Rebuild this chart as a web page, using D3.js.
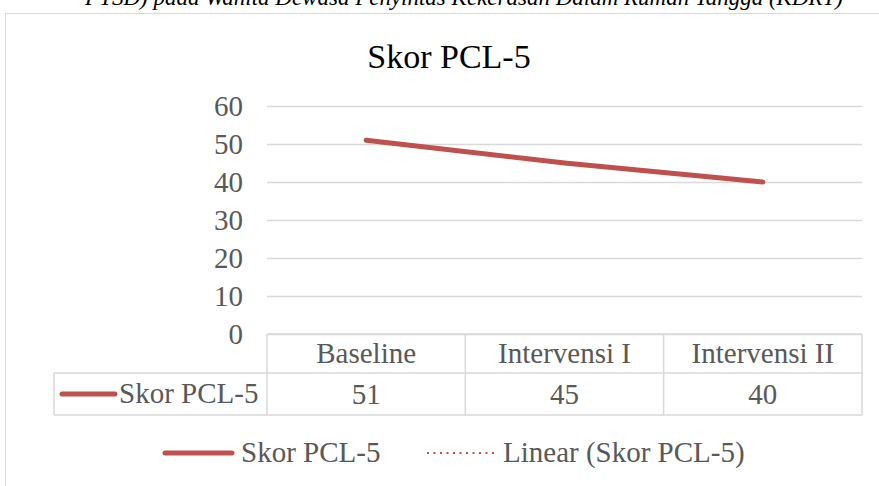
<!DOCTYPE html>
<html>
<head>
<meta charset="utf-8">
<script src="https://cdn.jsdelivr.net/npm/d3@7"></script>
<style>
  body { margin: 0; background: white; }
  text { font-family: "Liberation Serif", serif; }
</style>
</head>
<body>
<script>
var categories = ["Baseline", "Intervensi I", "Intervensi II"]
var values = [51, 45, 40]
var yTicks = [0, 10, 20, 30, 40, 50, 60]
var seriesName = "Skor PCL-5"
var trendName = "Linear (Skor PCL-5)"

var width = 879
var height = 486
var lineColor = "#C0504D"
var gridColor = "#d9d9d9"
var textColor = "#595959"
var fontFam = "Liberation Serif"
var labelSize = "29px"

var svg = d3.select("body")
    .append("svg")
    .attr("width", width)
    .attr("height", height)
    .attr("font-family", fontFam)

// caption from the page above, cut off by the crop
svg.append("text")
    .attr("x", 843)
    .attr("y", 5)
    .attr("text-anchor", "end")
    .attr("font-family", fontFam)
    .style("font-style", "italic")
    .style("font-size", "23px")
    .attr("fill", "#000")
    .text("PTSD) pada Wanita Dewasa Penyintas Kekerasan Dalam Rumah Tangga (KDRT)")

// chart frame
svg.append("rect")
    .attr("x", 5.5)
    .attr("y", 13.5)
    .attr("width", 900)
    .attr("height", 500)
    .attr("fill", "white")
    .attr("stroke", gridColor)

svg.append("text")
    .attr("x", 449)
    .attr("y", 68)
    .attr("text-anchor", "middle")
    .attr("font-family", fontFam)
    .style("font-size", "34px")
    .attr("fill", "#000")
    .text(seriesName)

var x = d3.scaleBand().domain(categories).range([267, 862])
var y = d3.scaleLinear().domain([0, 60]).range([334, 106])

// gridlines
svg.append("g")
    .selectAll("line")
    .data(yTicks)
    .enter()
    .append("line")
    .attr("x1", x.range()[0])
    .attr("x2", x.range()[1])
    .attr("y1", (d) => Math.round(y(d)) + 0.5)
    .attr("y2", (d) => Math.round(y(d)) + 0.5)
    .attr("stroke", gridColor)
    .attr("stroke-width", 1.5)

var yAxis = svg.append("g")
    .attr("transform", "translate(250,0)")
    .call(d3.axisLeft(y).tickValues(yTicks).tickSize(0).tickPadding(0))
yAxis.attr("font-family", fontFam).attr("font-size", null)
yAxis.select(".domain").remove()
yAxis.selectAll("text")
    .attr("fill", textColor)
    .style("font-size", labelSize)
    .attr("x", -7)
    .attr("dy", "0.33em")

// data table
var rowTop = 334, rowMid = 373, rowBot = 415
var leftCol = 54
var table = svg.append("g").attr("stroke", gridColor).attr("stroke-width", 1.5).attr("fill", "none")
table.append("path").attr("d",
    "M" + x.range()[0] + "," + rowTop + "H" + x.range()[1] +
    "M" + leftCol + "," + rowMid + "H" + x.range()[1] +
    "M" + leftCol + "," + rowBot + "H" + x.range()[1] +
    "M" + leftCol + "," + rowMid + "V" + rowBot)
table.selectAll("line.col")
    .data(categories.concat(["end"]))
    .enter()
    .append("line")
    .attr("x1", (d) => d === "end" ? x.range()[1] : x(d))
    .attr("x2", (d) => d === "end" ? x.range()[1] : x(d))
    .attr("y1", rowTop)
    .attr("y2", rowBot)

svg.append("g")
    .selectAll("text")
    .data(categories)
    .enter()
    .append("text")
    .attr("x", (d) => x(d) + x.bandwidth() / 2)
    .attr("y", 363)
    .attr("text-anchor", "middle")
    .style("font-size", labelSize)
    .attr("fill", textColor)
    .text((d) => d)

svg.append("g")
    .selectAll("text")
    .data(values)
    .enter()
    .append("text")
    .attr("x", (d, i) => x(categories[i]) + x.bandwidth() / 2)
    .attr("y", 404)
    .attr("text-anchor", "middle")
    .style("font-size", labelSize)
    .attr("fill", textColor)
    .text((d) => d)

svg.append("line")
    .attr("x1", 62).attr("x2", 115)
    .attr("y1", 394).attr("y2", 394)
    .attr("stroke", lineColor)
    .attr("stroke-width", 5)
    .attr("stroke-linecap", "round")
svg.append("text")
    .attr("x", 119)
    .attr("y", 403)
    .style("font-size", labelSize)
    .attr("fill", textColor)
    .text(seriesName)

// linear trend (least squares)
var n = values.length
var xs = d3.range(n)
var mx = d3.mean(xs), my = d3.mean(values)
var slope = d3.sum(xs, (d) => (d - mx) * (values[d] - my)) / d3.sum(xs, (d) => (d - mx) * (d - mx))
var icpt = my - slope * mx

var cx = (i) => x(categories[i]) + x.bandwidth() / 2

var line = d3.line()
    .x((d, i) => cx(i))
    .y((d) => y(d))

svg.append("path")
    .datum(values)
    .attr("d", line)
    .attr("fill", "none")
    .attr("stroke", lineColor)
    .attr("stroke-width", 5)
    .attr("stroke-linecap", "round")
    .attr("stroke-linejoin", "round")

svg.append("path")
    .datum(xs.map((i) => icpt + slope * i))
    .attr("d", line)
    .attr("fill", "none")
    .attr("stroke", lineColor)
    .attr("stroke-width", 1.5)
    .attr("stroke-dasharray", "1.5,3")

// legend
svg.append("line")
    .attr("x1", 165).attr("x2", 232)
    .attr("y1", 453).attr("y2", 453)
    .attr("stroke", lineColor)
    .attr("stroke-width", 5)
    .attr("stroke-linecap", "round")
svg.append("text")
    .attr("x", 241)
    .attr("y", 462)
    .style("font-size", labelSize)
    .attr("fill", textColor)
    .text(seriesName)

svg.append("line")
    .attr("x1", 427).attr("x2", 495)
    .attr("y1", 453).attr("y2", 453)
    .attr("stroke", lineColor)
    .attr("stroke-width", 2)
    .attr("stroke-dasharray", "2,4.5")
svg.append("text")
    .attr("x", 503)
    .attr("y", 462)
    .style("font-size", labelSize)
    .attr("fill", textColor)
    .text(trendName)
</script>
</body>
</html>
